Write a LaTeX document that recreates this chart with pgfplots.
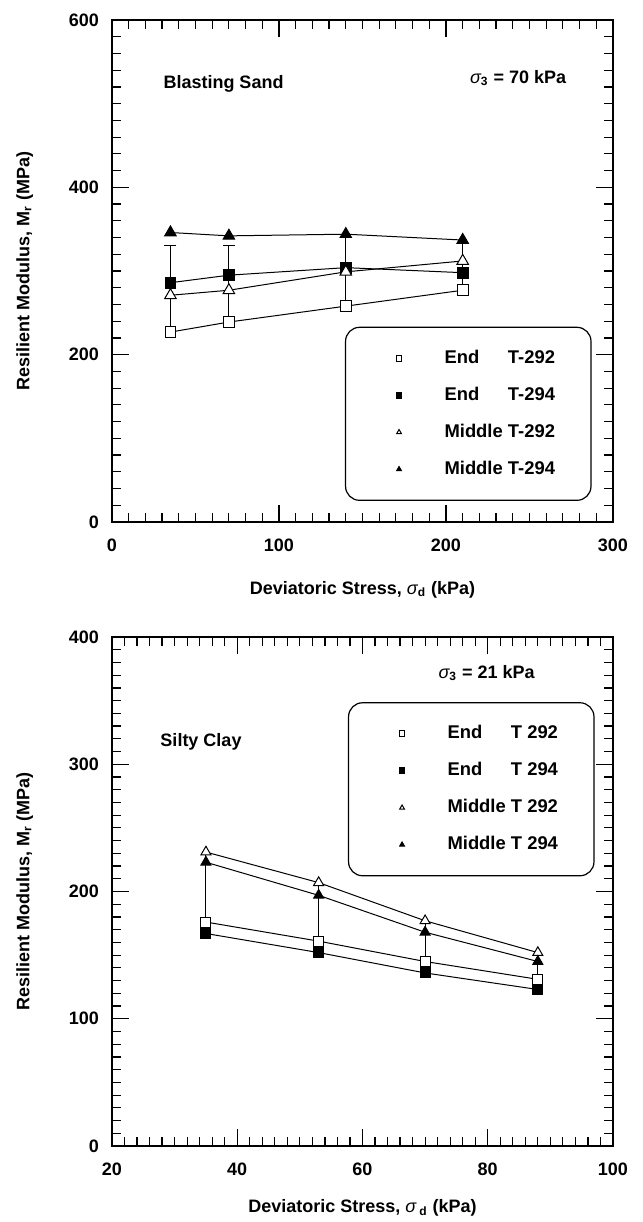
\documentclass[border=0pt]{standalone}
\usepackage{fontspec}
\setmainfont{Liberation Sans}
\usepackage{calc}
\usepackage{pgfplots}
\pgfplotsset{compat=1.18}

\newcommand{\leg}[2]{\makebox[\widthof{Middle\ }][l]{#1}#2}
\newcommand{\fnt}{\bfseries\fontsize{9}{10.8}\selectfont}
\newcommand{\lfnt}{\bfseries\fontsize{9.2}{11}\selectfont}

\pgfplotsset{
  myaxis/.style={
    scale only axis,
    width=250.5pt,
    axis line style={line width=0.8pt},
    tick align=inside,
    major tick length=8.5pt,
    minor tick length=4.5pt,
    every tick/.style={line width=0.6pt, black},
    font=\fnt,
    tick label style={font=\fnt},
    /pgf/number format/assume math mode=true,
    xticklabel style={yshift=-5pt},
    yticklabel style={xshift=-3pt},
    every axis y label/.style={at={(axis description cs:-0.174,0.5)}, rotate=90, anchor=center, font=\fnt},
    legend cell align=left,
    legend image code/.code={\path (-8.5pt,0pt) (2pt,0pt); \draw[##1] plot[only marks] coordinates {(0pt,0pt)};},
    legend image post style={mark size=1.4pt},
    legend style={anchor=north west, draw=black, line width=0.6pt, rounded corners=7pt, fill=white,
      inner xsep=18pt, inner ysep=11.2pt, row sep=9.9pt, font=\lfnt,
      nodes={inner sep=0pt, text height=6.8pt, text depth=1.8pt, anchor=west},
      /tikz/every odd column/.append style={column sep=20.5pt}},
  },
  ser/.style={black, line width=0.5pt},
  conn/.style={black, line width=0.5pt, forget plot, mark=none},
}

\begin{document}
\begin{tikzpicture}
\useasboundingbox (0,0) rectangle (321.5pt,-611pt);

% ---------------- Top: Blasting Sand ----------------
\begin{axis}[myaxis,
  at={(56pt,-10pt)}, anchor=north west,
  height=251pt,
  xmin=0, xmax=300, ymin=0, ymax=600,
  xtick={0,100,200,300}, ytick={0,200,400,600},
  minor x tick num=9, minor y tick num=9,
  xlabel={Deviatoric Stress, {\mdseries\itshape σ}\textsubscript{d} (kPa)},
  ylabel={Resilient Modulus, M\textsubscript{r} (MPa)},
  every axis x label/.style={at={(axis description cs:0.5,-0.135)}, anchor=center, font=\fnt},
  legend style={at={(0.465,0.389)}},
]
% range lines
\addplot[conn] coordinates {(35,227) (35,331)};
\addplot[conn] coordinates {(70,239) (70,331)};
\addplot[conn] coordinates {(140,258) (140,344)};
\addplot[conn] coordinates {(210,277) (210,337)};
\addplot[conn, only marks, mark=-, mark size=3pt] coordinates {(35,331) (70,331)};

\addplot[ser, mark=square*, mark size=2.7pt, mark options={fill=white}] coordinates {(35,227) (70,239) (140,258) (210,277)};
\addlegendentry{\leg{End}{T-292}}
\addplot[ser, mark=square*, mark size=2.7pt, mark options={fill=black}] coordinates {(35,286) (70,295) (140,304) (210,298)};
\addlegendentry{\leg{End}{T-294}}
\addplot[ser, mark=triangle*, mark size=3.3pt, mark options={fill=white}] coordinates {(35,271) (70,277) (140,299) (210,312)};
\addlegendentry{\leg{Middle}{T-292}}
\addplot[ser, mark=triangle*, mark size=3.3pt, mark options={fill=black}] coordinates {(35,346) (70,342) (140,344) (210,337)};
\addlegendentry{\leg{Middle}{T-294}}

\node[anchor=west, inner sep=0pt, font=\fnt] at (rel axis cs:0.102,0.873) {Blasting Sand};
\node[anchor=west, inner sep=0pt, font=\fnt] at (rel axis cs:0.714,0.884) {{\mdseries\itshape σ}\textsubscript{3} = 70 kPa};
\end{axis}

% ---------------- Bottom: Silty Clay ----------------
\begin{axis}[myaxis,
  at={(56pt,-318.5pt)}, anchor=north west,
  height=254.5pt,
  xmin=20, xmax=100, ymin=0, ymax=400,
  xtick={20,40,60,80,100}, ytick={0,100,200,300,400},
  minor x tick num=9, minor y tick num=9,
  xlabel={Deviatoric Stress, {\mdseries\itshape σ}\,\textsubscript{d} (kPa)},
  ylabel={Resilient Modulus, M\textsubscript{r} (MPa)},
  every axis x label/.style={at={(axis description cs:0.5,-0.122)}, anchor=center, font=\fnt},
  legend style={at={(0.471,0.872)}},
]
\addplot[conn] coordinates {(35,167) (35,231)};
\addplot[conn] coordinates {(53,152) (53,207)};
\addplot[conn] coordinates {(70,136) (70,177)};
\addplot[conn] coordinates {(88,123) (88,152)};

\addplot[ser, mark=square*, mark size=2.5pt, mark options={fill=white}] coordinates {(35,176) (53,161) (70,145) (88,131)};
\addlegendentry{\leg{End}{T 292}}
\addplot[ser, mark=square*, mark size=2.5pt, mark options={fill=black}] coordinates {(35,167) (53,152) (70,136) (88,123)};
\addlegendentry{\leg{End}{T 294}}
\addplot[ser, mark=triangle*, mark size=2.9pt, mark options={fill=white}] coordinates {(35,231) (53,207) (70,177) (88,152)};
\addlegendentry{\leg{Middle}{T 292}}
\addplot[ser, mark=triangle*, mark size=2.9pt, mark options={fill=black}] coordinates {(35,223) (53,197) (70,168) (88,145)};
\addlegendentry{\leg{Middle}{T 294}}

\node[anchor=west, inner sep=0pt, font=\fnt] at (rel axis cs:0.096,0.794) {Silty Clay};
\node[anchor=west, inner sep=0pt, font=\fnt] at (rel axis cs:0.651,0.929) {{\mdseries\itshape σ}\textsubscript{3} = 21 kPa};
\end{axis}
\end{tikzpicture}
\end{document}
